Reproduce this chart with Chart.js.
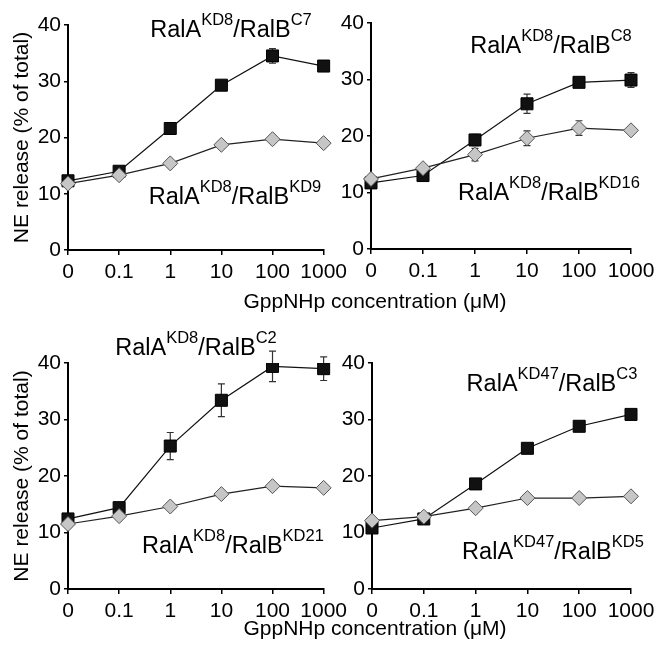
<!DOCTYPE html>
<html>
<head>
<meta charset="utf-8">
<script src="https://cdn.jsdelivr.net/npm/chart.js@4.4.1/dist/chart.umd.min.js"></script>
<style>
  body { margin: 0; background: #fff; width: 661px; height: 650px; position: relative; overflow: hidden;
         font-family: "Liberation Sans", Arial, sans-serif; }
  canvas { position: absolute; }
  .xtitle { position: absolute; font-size: 21px; line-height: 21px; white-space: nowrap; color: #000;
            transform: translateX(-50%); }
</style>
</head>
<body>
<canvas id="p1" width="352" height="305" style="left:0;top:0"></canvas>
<canvas id="p2" width="329" height="305" style="left:332px;top:0"></canvas>
<canvas id="p3" width="352" height="305" style="left:0;top:320px"></canvas>
<canvas id="p4" width="329" height="305" style="left:332px;top:320px"></canvas>
<div class="xtitle" style="left:375px;top:290px">GppNHp concentration (μM)</div>
<div class="xtitle" style="left:375px;top:617px">GppNHp concentration (μM)</div>
<script>
// 濃度ラベル (μM)
const concLabels = ['0', '0.1', '1', '10', '100', '1000'];

// パネル1: RalA KD8 / RalB C7 vs KD9
const c7Mean = [12.3, 14.0, 21.6, 29.3, 34.5, 32.7];
const c7Err = [0.6, 0.6, 0.8, 0.7, 1.3, 0.9];
const kd9Mean = [11.8, 13.3, 15.4, 18.7, 19.7, 19.0];
const kd9Err = [0.4, 0.4, 0.5, 0.5, 0.6, 0.4];

// パネル2: RalA KD8 / RalB C8 vs KD16
const c8Mean = [11.7, 13.0, 19.3, 25.7, 29.5, 29.9];
const c8Err = [0.5, 0.5, 1.0, 1.7, 0.5, 1.3];
const kd16Mean = [12.4, 14.3, 16.7, 19.6, 21.4, 21.0];
const kd16Err = [0.4, 0.5, 1.1, 1.3, 1.3, 0.5];

// パネル3: RalA KD8 / RalB C2 vs KD21
const c2Mean = [12.4, 14.4, 25.3, 33.4, 39.4, 39.0];
const c2Err = [0.6, 0.8, 2.4, 2.9, 2.7, 2.1];
const kd21Mean = [11.5, 12.9, 14.6, 16.8, 18.2, 17.9];
const kd21Err = [0.4, 0.4, 0.5, 0.6, 0.6, 0.6];

// パネル4: RalA KD47 / RalB C3 vs KD5
const c3Mean = [10.8, 12.4, 18.6, 24.9, 28.8, 30.9];
const c3Err = [0.5, 0.5, 0.5, 0.6, 0.5, 0.8];
const kd5Mean = [12.1, 12.8, 14.3, 16.1, 16.1, 16.4];
const kd5Err = [0.4, 0.4, 0.5, 0.6, 0.6, 0.6];

// ラベル文字列 [テキスト, 上付き]
const nameC7 = [['RalA', false], ['KD8', true], ['/RalB', false], ['C7', true]];
const nameKD9 = [['RalA', false], ['KD8', true], ['/RalB', false], ['KD9', true]];
const nameC8 = [['RalA', false], ['KD8', true], ['/RalB', false], ['C8', true]];
const nameKD16 = [['RalA', false], ['KD8', true], ['/RalB', false], ['KD16', true]];
const nameC2 = [['RalA', false], ['KD8', true], ['/RalB', false], ['C2', true]];
const nameKD21 = [['RalA', false], ['KD8', true], ['/RalB', false], ['KD21', true]];
const nameC3 = [['RalA', false], ['KD47', true], ['/RalB', false], ['C3', true]];
const nameKD5 = [['RalA', false], ['KD47', true], ['/RalB', false], ['KD5', true]];

const yTitle = 'NE release (% of total)';
const FONT = '"Liberation Sans", Arial, sans-serif';

// エラーバー描画 (マーカーの下に描く)
const errorBarPlugin = {
    id: 'errorBars',
    beforeDatasetsDraw(chart) {
        const ctx = chart.ctx;
        const yScale = chart.scales.y;
        ctx.save();
        ctx.strokeStyle = '#333';
        ctx.lineWidth = 1.2;
        chart.data.datasets.forEach((ds, i) => {
            const meta = chart.getDatasetMeta(i);
            meta.data.forEach((pt, j) => {
                const e = ds.errors[j];
                const top = yScale.getPixelForValue(ds.data[j] + e);
                const bot = yScale.getPixelForValue(ds.data[j] - e);
                ctx.beginPath();
                ctx.moveTo(pt.x, top); ctx.lineTo(pt.x, bot);
                ctx.moveTo(pt.x - 3.5, top); ctx.lineTo(pt.x + 3.5, top);
                ctx.moveTo(pt.x - 3.5, bot); ctx.lineTo(pt.x + 3.5, bot);
                ctx.stroke();
            });
        });
        ctx.restore();
    }
};

// 系列名のテキスト (上付き文字付き)
const seriesLabelPlugin = {
    id: 'seriesLabels',
    afterDraw(chart, args, opts) {
        const ctx = chart.ctx;
        ctx.save();
        ctx.fillStyle = '#000';
        ctx.textBaseline = 'alphabetic';
        (opts.items || []).forEach(item => {
            let total = 0;
            item.parts.forEach(([t, sup]) => {
                ctx.font = (sup ? 16.5 : 23.5) + 'px ' + FONT;
                total += ctx.measureText(t).width;
            });
            let x = item.cx - total / 2;
            item.parts.forEach(([t, sup]) => {
                ctx.font = (sup ? 16.5 : 23.5) + 'px ' + FONT;
                ctx.fillText(t, x, item.y - (sup ? 12 : 0));
                x += ctx.measureText(t).width;
            });
        });
        ctx.restore();
    }
};

function makePanel(id, blackMean, blackErr, grayMean, grayErr, layout, labels) {
    const ctx = document.getElementById(id).getContext('2d');
    return new Chart(ctx, {
        type: 'line',
        data: {
            labels: concLabels,
            datasets: [
                {
                    data: grayMean,
                    errors: grayErr,
                    borderColor: '#222',
                    borderWidth: 1.2,
                    pointStyle: 'rectRot',
                    pointRadius: 7.5,
                    pointBackgroundColor: '#c6c6c6',
                    pointBorderColor: '#555',
                    pointBorderWidth: 1,
                    tension: 0
                },
                {
                    data: blackMean,
                    errors: blackErr,
                    borderColor: '#111',
                    borderWidth: 1.2,
                    pointStyle: 'rect',
                    pointRadius: 8.5,
                    pointBackgroundColor: '#111',
                    pointBorderColor: '#000',
                    pointBorderWidth: 1,
                    tension: 0
                }
            ]
        },
        options: {
            responsive: false,
            animation: false,
            layout: { padding: { top: layout.padTop, right: layout.padRight, left: 0, bottom: 0 } },
            plugins: {
                legend: { display: false },
                tooltip: { enabled: false },
                seriesLabels: { items: labels }
            },
            scales: {
                x: {
                    type: 'category',
                    offset: false,
                    grid: { drawOnChartArea: false, tickLength: 5, color: '#000', lineWidth: 1.5 },
                    border: { color: '#000', width: 2 },
                    ticks: { color: '#000', font: { family: FONT, size: 21 }, padding: 5, maxRotation: 0, autoSkip: false },
                    afterFit: s => { s.height = layout.xHeight; }
                },
                y: {
                    min: 0,
                    max: 40,
                    grid: { drawOnChartArea: false, tickLength: 4, color: '#000', lineWidth: 1.5 },
                    border: { color: '#000', width: 2 },
                    ticks: { stepSize: 10, color: '#000', font: { family: FONT, size: 21 }, padding: 3 },
                    title: {
                        display: layout.yTitle,
                        text: yTitle,
                        color: '#000',
                        font: { family: FONT, size: 21 },
                        padding: { top: 10, bottom: 0 }
                    },
                    afterFit: s => { s.width = layout.yWidth; }
                }
            }
        },
        plugins: [errorBarPlugin, seriesLabelPlugin]
    });
}

document.addEventListener('DOMContentLoaded', () => {
    makePanel('p1', c7Mean, c7Err, kd9Mean, kd9Err,
        { padTop: 25, padRight: 25, xHeight: 55, yWidth: 68, yTitle: true },
        [{ parts: nameC7, cx: 231, y: 37 }, { parts: nameKD9, cx: 235, y: 204 }]);
    makePanel('p2', c8Mean, c8Err, kd16Mean, kd16Err,
        { padTop: 23, padRight: 30, xHeight: 56, yWidth: 39, yTitle: false },
        [{ parts: nameC8, cx: 219, y: 53 }, { parts: nameKD16, cx: 217, y: 200 }]);
    makePanel('p3', c2Mean, c2Err, kd21Mean, kd21Err,
        { padTop: 43, padRight: 25, xHeight: 36, yWidth: 68, yTitle: true },
        [{ parts: nameC2, cx: 196, y: 35 }, { parts: nameKD21, cx: 233, y: 233 }]);
    makePanel('p4', c3Mean, c3Err, kd5Mean, kd5Err,
        { padTop: 43, padRight: 30, xHeight: 36, yWidth: 40, yTitle: false },
        [{ parts: nameC3, cx: 220, y: 71 }, { parts: nameKD5, cx: 221, y: 239 }]);
});
</script>
</body>
</html>
